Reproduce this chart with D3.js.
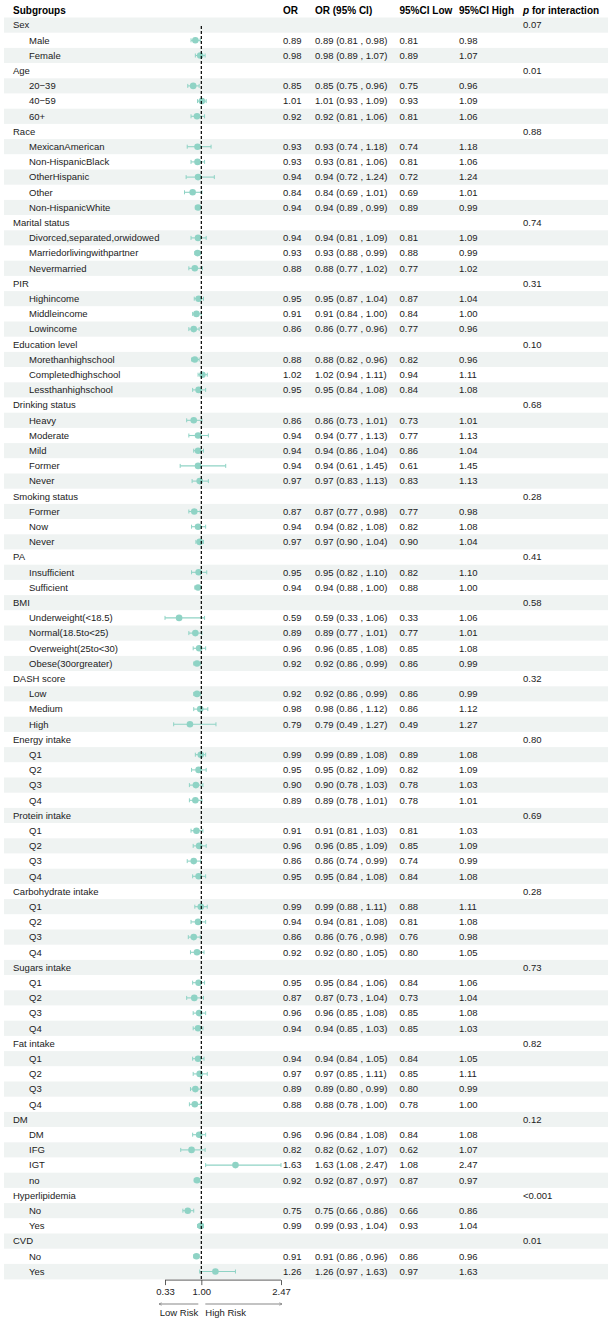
<!DOCTYPE html>
<html><head><meta charset="utf-8">
<script src="https://cdn.jsdelivr.net/npm/d3@7"></script>
<style>
html,body{margin:0;padding:0;background:#fff;}
svg{display:block;font-family:"Liberation Sans",Arial,sans-serif;}
</style></head>
<body><div id="chart"></div>
<script>
// ---- data ----
const groups = ["Sex","Age","Race","Marital status","PIR","Education level","Drinking status","Smoking status","PA","BMI","DASH score","Energy intake","Protein intake","Carbohydrate intake","Sugars intake","Fat intake","DM","Hyperlipidemia","CVD"];
const pInteraction = ["0.07","0.01","0.88","0.74","0.31","0.10","0.68","0.28","0.41","0.58","0.32","0.80","0.69","0.28","0.73","0.82","0.12","<0.001","0.01"];
const subgroups = [
  ["Male","Female"],
  ["20\u221239","40\u221259","60+"],
  ["MexicanAmerican","Non-HispanicBlack","OtherHispanic","Other","Non-HispanicWhite"],
  ["Divorced,separated,orwidowed","Marriedorlivingwithpartner","Nevermarried"],
  ["Highincome","Middleincome","Lowincome"],
  ["Morethanhighschool","Completedhighschool","Lessthanhighschool"],
  ["Heavy","Moderate","Mild","Former","Never"],
  ["Former","Now","Never"],
  ["Insufficient","Sufficient"],
  ["Underweight(<18.5)","Normal(18.5to<25)","Overweight(25to<30)","Obese(30orgreater)"],
  ["Low","Medium","High"],
  ["Q1","Q2","Q3","Q4"],
  ["Q1","Q2","Q3","Q4"],
  ["Q1","Q2","Q3","Q4"],
  ["Q1","Q2","Q3","Q4"],
  ["Q1","Q2","Q3","Q4"],
  ["DM","IFG","IGT","no"],
  ["No","Yes"],
  ["No","Yes"]
];
const orValues = [
  [0.89,0.98],
  [0.85,1.01,0.92],
  [0.93,0.93,0.94,0.84,0.94],
  [0.94,0.93,0.88],
  [0.95,0.91,0.86],
  [0.88,1.02,0.95],
  [0.86,0.94,0.94,0.94,0.97],
  [0.87,0.94,0.97],
  [0.95,0.94],
  [0.59,0.89,0.96,0.92],
  [0.92,0.98,0.79],
  [0.99,0.95,0.90,0.89],
  [0.91,0.96,0.86,0.95],
  [0.99,0.94,0.86,0.92],
  [0.95,0.87,0.96,0.94],
  [0.94,0.97,0.89,0.88],
  [0.96,0.82,1.63,0.92],
  [0.75,0.99],
  [0.91,1.26]
];
const ciLow = [
  [0.81,0.89],
  [0.75,0.93,0.81],
  [0.74,0.81,0.72,0.69,0.89],
  [0.81,0.88,0.77],
  [0.87,0.84,0.77],
  [0.82,0.94,0.84],
  [0.73,0.77,0.86,0.61,0.83],
  [0.77,0.82,0.90],
  [0.82,0.88],
  [0.33,0.77,0.85,0.86],
  [0.86,0.86,0.49],
  [0.89,0.82,0.78,0.78],
  [0.81,0.85,0.74,0.84],
  [0.88,0.81,0.76,0.80],
  [0.84,0.73,0.85,0.85],
  [0.84,0.85,0.80,0.78],
  [0.84,0.62,1.08,0.87],
  [0.66,0.93],
  [0.86,0.97]
];
const ciHigh = [
  [0.98,1.07],
  [0.96,1.09,1.06],
  [1.18,1.06,1.24,1.01,0.99],
  [1.09,0.99,1.02],
  [1.04,1.00,0.96],
  [0.96,1.11,1.08],
  [1.01,1.13,1.04,1.45,1.13],
  [0.98,1.08,1.04],
  [1.10,1.00],
  [1.06,1.01,1.08,0.99],
  [0.99,1.12,1.27],
  [1.08,1.09,1.03,1.01],
  [1.03,1.09,0.99,1.08],
  [1.11,1.08,0.98,1.05],
  [1.06,1.04,1.08,1.03],
  [1.05,1.11,0.99,1.00],
  [1.08,1.07,2.47,0.97],
  [0.86,1.04],
  [0.96,1.63]
];
const headers = ["Subgroups","OR","OR (95% CI)","95%CI Low","95%CI High","p for interaction"];
const xTicks = [0.33, 1.00, 2.47];
const refValue = 1;
const arrowLabels = ["Low Risk","High Risk"];

// ---- build rows ----
const rows = [];
groups.forEach((g,gi)=>{
  rows.push({type:"group", label:g, p:pInteraction[gi]});
  subgroups[gi].forEach((s,si)=>{
    rows.push({type:"item", label:s, or:orValues[gi][si], lo:ciLow[gi][si], hi:ciHigh[gi][si]});
  });
});

const W = 613, H = 1321;
const svg = d3.select("#chart").append("svg").attr("width",W).attr("height",H);

const rowH = 15.2, bodyTop = 17.5;
const y = d3.scaleBand().domain(d3.range(rows.length)).range([bodyTop, bodyTop + rowH*rows.length]).paddingInner(0).paddingOuter(0);
const x = d3.scaleLinear().domain([xTicks[0], xTicks[xTicks.length-1]]).range([165, 281]);

const colX = {sub:13, item:29, or:283, orci:315, lo:399.5, hi:459, p:523};
const fmt = d3.format(".2f");
const textColor = "#222";

// stripes
svg.append("g").selectAll("rect").data(rows).join("rect")
  .attr("x",4).attr("width",604)
  .attr("y",(d,i)=>y(i)).attr("height",y.bandwidth()+0.3)
  .attr("fill",(d,i)=> i%2===0 ? "#eff3f2" : "#ffffff");

// headers
const hdr = svg.append("g").attr("font-size",10).attr("font-weight","bold").attr("fill","#000");
const hx = [colX.sub, colX.or, colX.orci, colX.lo, colX.hi];
headers.slice(0,5).forEach((h,i)=>{
  hdr.append("text").attr("x",hx[i]).attr("y",10).attr("dy","0.35em").text(h);
});
const pt = hdr.append("text").attr("x",colX.p).attr("y",10).attr("dy","0.35em");
pt.append("tspan").attr("font-style","italic").text("p");
pt.append("tspan").text(headers[5].slice(1));

// body text
const body = svg.append("g").attr("font-size",9.5).attr("fill",textColor);
rows.forEach((r,i)=>{
  const cy = y(i) + y.bandwidth()/2;
  if(r.type==="group"){
    body.append("text").attr("x",colX.sub).attr("y",cy).attr("dy","0.35em").text(r.label);
    body.append("text").attr("x",colX.p).attr("y",cy).attr("dy","0.35em").text(r.p);
  } else {
    body.append("text").attr("x",colX.item).attr("y",cy).attr("dy","0.35em").text(r.label);
    body.append("text").attr("x",colX.or).attr("y",cy).attr("dy","0.35em").text(fmt(r.or));
    body.append("text").attr("x",colX.orci).attr("y",cy).attr("dy","0.35em").text(`${fmt(r.or)} (${fmt(r.lo)} , ${fmt(r.hi)})`);
    body.append("text").attr("x",colX.lo).attr("y",cy).attr("dy","0.35em").text(fmt(r.lo));
    body.append("text").attr("x",colX.hi).attr("y",cy).attr("dy","0.35em").text(fmt(r.hi));
  }
});

// CI marks
const col = "#8fd3c5";
const items = rows.map((r,i)=>({...r, i})).filter(r=>r.type==="item");
const ci = svg.append("g");
ci.selectAll("line.ci").data(items).join("line")
  .attr("x1",d=>x(d.lo)).attr("x2",d=>x(d.hi))
  .attr("y1",d=>y(d.i)+y.bandwidth()/2).attr("y2",d=>y(d.i)+y.bandwidth()/2)
  .attr("stroke",col).attr("stroke-width",1.1);
["lo","hi"].forEach(k=>{
  ci.selectAll("line.cap"+k).data(items).join("line")
    .attr("x1",d=>x(d[k])).attr("x2",d=>x(d[k]))
    .attr("y1",d=>y(d.i)+y.bandwidth()/2-2).attr("y2",d=>y(d.i)+y.bandwidth()/2+2)
    .attr("stroke",col).attr("stroke-width",1);
});
ci.selectAll("circle").data(items).join("circle")
  .attr("cx",d=>x(d.or)).attr("cy",d=>y(d.i)+y.bandwidth()/2).attr("r",3.3)
  .attr("fill",col);

// reference line
const bodyBottom = bodyTop + rowH*rows.length;
svg.append("line").attr("x1",x(refValue)).attr("x2",x(refValue))
  .attr("y1",26).attr("y2",bodyBottom+1)
  .attr("stroke","#000").attr("stroke-width",1.2).attr("stroke-dasharray","3,2");

// axis
const axisY = bodyBottom + 1;
const axis = d3.axisBottom(x).tickValues(xTicks).tickFormat(d3.format(".2f")).tickSize(5).tickSizeOuter(0);
const ag = svg.append("g").attr("transform",`translate(0,${axisY})`).call(axis);
ag.select(".domain").attr("stroke","#333").attr("stroke-width",0.8).attr("d",`M${x(xTicks[0])},0H${x(xTicks[xTicks.length-1])}`);
ag.selectAll(".tick line").attr("stroke","#333").attr("stroke-width",0.8);
ag.selectAll(".tick text").attr("font-family","Liberation Sans, Arial, sans-serif").attr("font-size",9.5).attr("fill",textColor).attr("y",8);

// arrows
const defs = svg.append("defs");
defs.append("marker").attr("id","arr").attr("viewBox","0 0 10 10").attr("refX",9).attr("refY",5)
  .attr("markerWidth",5).attr("markerHeight",5).attr("orient","auto-start-reverse")
  .append("path").attr("d","M1,1L9,5L1,9").attr("fill","none").attr("stroke","#555").attr("stroke-width",1.2);
const arrY = 1304;
svg.append("line").attr("x1",x(refValue)-3).attr("x2",x(xTicks[0])-6).attr("y1",arrY).attr("y2",arrY)
  .attr("stroke","#555").attr("stroke-width",0.7).attr("marker-end","url(#arr)");
svg.append("line").attr("x1",x(refValue)+4).attr("x2",x(xTicks[xTicks.length-1])+1).attr("y1",arrY).attr("y2",arrY)
  .attr("stroke","#555").attr("stroke-width",0.7).attr("marker-end","url(#arr)");
svg.append("text").attr("x",x(refValue)-3).attr("y",1313).attr("dy","0.35em").attr("text-anchor","end")
  .attr("font-size",9.5).attr("fill",textColor).text(arrowLabels[0]);
svg.append("text").attr("x",x(refValue)+4).attr("y",1313).attr("dy","0.35em")
  .attr("font-size",9.5).attr("fill",textColor).text(arrowLabels[1]);
</script></body></html>
